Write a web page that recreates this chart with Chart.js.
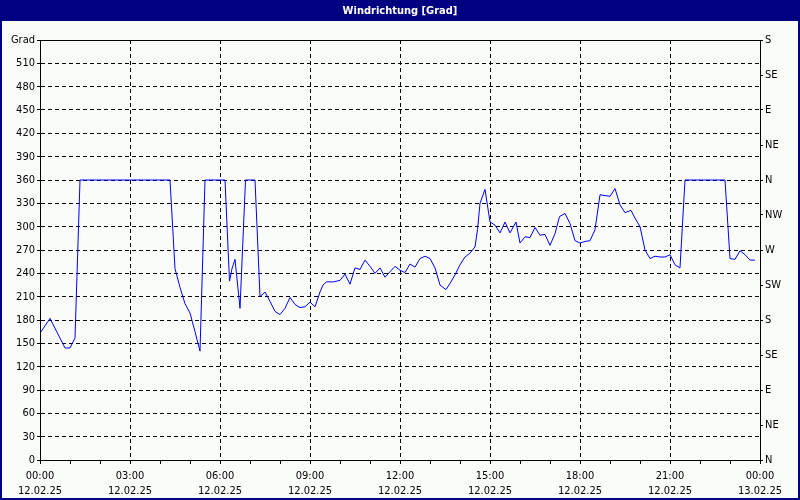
<!DOCTYPE html>
<html>
<head>
<meta charset="utf-8">
<script src="https://cdn.jsdelivr.net/npm/chart.js@4"></script>
<style>
  html, body { margin: 0; padding: 0; background: #fafcfa; }
  canvas { display: block; }
</style>
</head>
<body>
<canvas id="chart" width="800" height="500"></canvas>
<script>
// Messzeitpunkte in Minuten ab 12.02.25 00:00
const timesMin = [0, 20, 50, 60, 70, 80, 260, 270, 280, 290, 300, 310, 320, 330, 370, 379, 384, 390, 400, 411,
  430, 440, 450, 460, 470, 480, 490, 500, 510, 520, 530, 540, 550, 560, 566, 573, 587, 600, 610, 620,
  630, 640, 650, 660, 670, 680, 690, 700, 710, 720, 730, 740, 750, 760, 770, 780, 790, 800, 812, 820,
  830, 840, 850, 860, 870, 875, 880, 890, 900, 910, 920, 930, 940, 952, 960, 970, 980, 990, 1000, 1010,
  1020, 1030, 1039, 1050, 1060, 1070, 1080, 1090, 1100, 1110, 1120, 1130, 1140, 1150, 1160, 1170, 1182, 1190, 1200, 1210,
  1220, 1230, 1240, 1250, 1260, 1270, 1280, 1290, 1370, 1380, 1390, 1400, 1410, 1420, 1430];

// Windrichtung in Grad
const windDeg = [163, 182, 144, 144, 157, 360, 360, 246, 222, 201, 189, 165, 140, 360, 360, 230, 246, 258, 195, 360,
  360, 210, 216, 204, 191, 187, 195, 209, 200, 196, 197, 203, 197, 216, 225, 229, 229, 231, 239, 226,
  247, 245, 257, 249, 240, 247, 235, 242, 249, 244, 241, 252, 248, 259, 262, 259, 247, 225, 219, 227,
  238, 251, 261, 266, 274, 296, 330, 348, 306, 302, 292, 306, 292, 306, 279, 287, 286, 299, 289, 290,
  276, 291, 313, 317, 304, 282, 279, 281, 282, 296, 341, 340, 339, 349, 328, 318, 321, 311, 300, 270,
  259, 262, 261, 261, 264, 251, 247, 360, 360, 259, 258, 269, 264, 257, 257];

const compassLabels = ['N', 'NE', 'E', 'SE', 'S', 'SW', 'W', 'NW', 'N', 'NE', 'E', 'SE', 'S'];
const dayLabels = ['12.02.25', '13.02.25'];
const chartTitle = 'Windrichtung [Grad]';
const unitLabel = 'Grad';

const FAMILY = '"DejaVu Sans Condensed", Tahoma, "DejaVu Sans", sans-serif';
const FONT = { family: FAMILY, size: 11 };

const framePlugin = {
  id: 'frame',
  beforeDraw(chart) {
    const c = chart.ctx;
    c.save();
    c.fillStyle = '#fafcfa';
    c.fillRect(0, 0, chart.width, chart.height);
    c.restore();
  },
  afterDraw(chart) {
    const c = chart.ctx;
    const a = chart.chartArea;
    c.save();
    // Rahmen des Diagramms
    c.strokeStyle = '#000';
    c.lineWidth = 1;
    c.strokeRect(Math.round(a.left) + 0.5, Math.round(a.top) + 0.5,
      Math.round(a.right - a.left), Math.round(a.bottom - a.top));
    // Titelleiste
    c.fillStyle = '#000080';
    c.fillRect(0, 0, chart.width, 21);
    c.fillStyle = '#fff';
    c.font = 'bold 11px ' + FAMILY;
    c.textAlign = 'center';
    c.textBaseline = 'middle';
    c.fillText(chartTitle, chart.width / 2, 11);
    // Fensterrahmen
    c.fillStyle = '#000080';
    c.fillRect(0, 0, 2, chart.height);
    c.fillRect(chart.width - 2, 0, 2, chart.height);
    c.fillRect(0, chart.height - 2, chart.width, 2);
    c.restore();
  }
};

const fmtTime = (m) => {
  const h = Math.floor(m / 60) % 24;
  return String(h).padStart(2, '0') + ':00';
};

new Chart(document.getElementById('chart'), {
  type: 'line',
  data: {
    datasets: [{
      data: timesMin.map((t, i) => ({ x: t, y: windDeg[i] })),
      borderColor: '#0000ff',
      borderWidth: 1,
      pointRadius: 0,
      tension: 0,
      fill: false,
      yAxisID: 'y'
    }]
  },
  options: {
    responsive: false,
    animation: false,
    layout: { padding: { top: 40, left: 0, right: 0, bottom: 0 } },
    plugins: { legend: { display: false }, tooltip: { enabled: false } },
    scales: {
      x: {
        type: 'linear',
        min: 0,
        max: 1440,
        afterFit: (s) => { s.height = 40; },
        ticks: {
          stepSize: 60,
          autoSkip: false,
          maxRotation: 0,
          padding: 5,
          color: '#000',
          font: { ...FONT, lineHeight: 1.35 },
          callback: (v) => v % 180 === 0 ? [fmtTime(v), dayLabels[v >= 1440 ? 1 : 0]] : ''
        },
        grid: {
          color: (ctx) => (ctx.tick && ctx.tick.value % 180 === 0 && ctx.tick.value > 0 && ctx.tick.value < 1440) ? '#000' : 'rgba(0,0,0,0)',
          tickColor: '#000',
          tickLength: 4,
          lineWidth: 1
        },
        border: { display: true, color: '#000', dash: [4, 3] }
      },
      y: {
        position: 'left',
        min: 0,
        max: 540,
        afterFit: (s) => { s.width = 40; },
        ticks: {
          stepSize: 30,
          padding: 2,
          color: '#000',
          font: FONT,
          callback: (v) => v === 540 ? unitLabel : String(v)
        },
        grid: {
          color: (ctx) => (ctx.tick && ctx.tick.value > 0 && ctx.tick.value < 540) ? '#000' : 'rgba(0,0,0,0)',
          tickColor: '#000',
          tickLength: 3,
          lineWidth: 1
        },
        border: { display: true, color: '#000', dash: [4, 3] }
      },
      y2: {
        position: 'right',
        min: 0,
        max: 540,
        afterFit: (s) => { s.width = 40; },
        ticks: {
          stepSize: 45,
          padding: 2,
          color: '#000',
          font: FONT,
          callback: (v) => compassLabels[Math.round(v / 45)]
        },
        grid: {
          drawOnChartArea: false,
          tickColor: '#000',
          tickLength: 3
        },
        border: { display: true, color: '#000' }
      }
    }
  },
  plugins: [framePlugin]
});
</script>
</body>
</html>
